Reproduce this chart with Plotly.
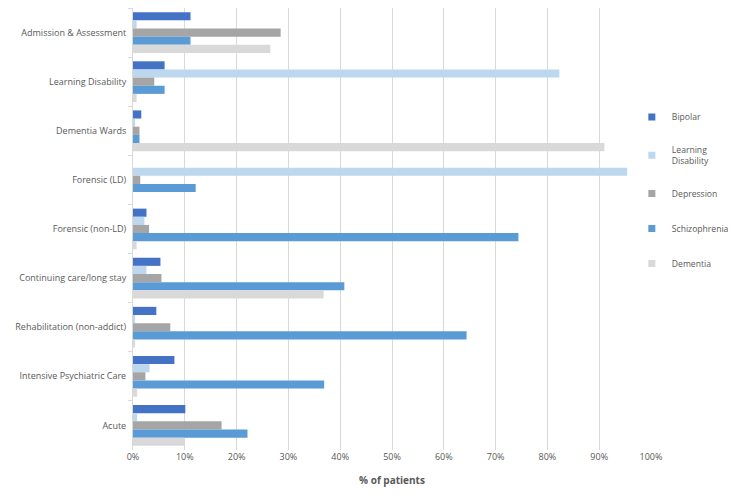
import plotly.graph_objects as go

categories = ["Admission & Assessment", "Learning Disability", "Dementia Wards",
              "Forensic (LD)", "Forensic (non-LD)", "Continuing care/long stay",
              "Rehabilitation (non-addict)", "Intensive Psychiatric Care", "Acute"]

bipolar = [11.1, 6.1, 1.6, 0.0, 2.6, 5.3, 4.5, 8.0, 10.1]
learning_disability = [0.7, 82.3, 0.4, 95.4, 2.2, 2.6, 0.4, 3.2, 0.8]
depression = [28.5, 4.1, 1.25, 1.4, 3.1, 5.5, 7.2, 2.4, 17.1]
schizophrenia = [11.1, 6.1, 1.25, 12.1, 74.4, 40.8, 64.4, 36.9, 22.1]
dementia = [26.5, 0.7, 91.0, 0.0, 0.7, 36.8, 0.4, 0.8, 10.0]

series = [
    ("Bipolar", bipolar, "#4472C4"),
    ("Learning<br>Disability", learning_disability, "#BDD7EE"),
    ("Depression", depression, "#A5A5A5"),
    ("Schizophrenia", schizophrenia, "#5B9BD5"),
    ("Dementia", dementia, "#D9D9D9"),
]

fig = go.Figure()
for i, (name, vals, color) in enumerate(series):
    fig.add_trace(go.Bar(
        y=categories, x=[v / 100 for v in vals], name=name, orientation="h",
        marker=dict(color=color, line=dict(width=0)), showlegend=False,
    ))
# legend entries with small square swatches
for i, (name, vals, color) in enumerate(series):
    fig.add_trace(go.Scatter(
        x=[None], y=[None], mode="markers", name=name, legendgroup=f"g{i}",
        marker=dict(symbol="square", size=7, color=color), showlegend=True,
    ))

fig.update_layout(
    width=729, height=491,
    margin=dict(l=125, r=86, t=0, b=49, autoexpand=False),
    paper_bgcolor="white", plot_bgcolor="white",
    barmode="group", bargap=0.17, bargroupgap=0,
    font=dict(family="Open Sans, Liberation Sans, sans-serif", size=9, color="#595959"),
    xaxis=dict(
        range=[0, 1], tickformat=".0%", dtick=0.1, tick0=0,
        showgrid=True, gridcolor="#D9D9D9", gridwidth=1, zeroline=False,
        showline=False, ticks="", tickfont=dict(size=9, color="#595959"),
        automargin=False,
        title=dict(text="<b>% of patients</b>", font=dict(size=10, color="#595959"), standoff=14),
    ),
    yaxis=dict(
        autorange="reversed", showgrid=False, zeroline=False, automargin=False,
        showline=True, linecolor="#D9D9D9", linewidth=1,
        ticks="outside", tickson="boundaries", ticklen=4, tickcolor="#D9D9D9",
        tickfont=dict(size=9, color="#595959"), ticklabelstandoff=4,
    ),
    legend=dict(
        x=0.963, xanchor="left", y=0.786, yanchor="top",
        tracegroupgap=16, font=dict(size=8.6, color="#595959"),
        itemwidth=30, bgcolor="rgba(0,0,0,0)",
    ),
    showlegend=True,
)

fig.write_html("out.html")
